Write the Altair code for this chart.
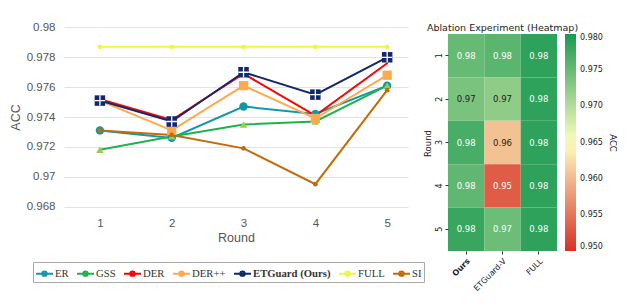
import altair as alt
import pandas as pd

rounds = [1, 2, 3, 4, 5]
series_names = ["ER", "GSS", "DER", "DER++", "ETGuard (Ours)", "FULL", "SI"]
er = [0.9731, 0.9726, 0.9747, 0.9742, 0.9761]
gss = [0.9718, 0.9727, 0.9735, 0.9737, 0.9761]
der = [0.9752, 0.9738, 0.9769, 0.9741, 0.9776]
derpp = [0.9751, 0.9731, 0.9761, 0.9739, 0.9768]
etguard = [0.9751, 0.9737, 0.9770, 0.9755, 0.9780]
full = [0.9787, 0.9787, 0.9787, 0.9787, 0.9787]
si = [0.9731, 0.9728, 0.9719, 0.9695, 0.9758]
y_ticks = [0.968, 0.970, 0.972, 0.974, 0.976, 0.978, 0.980]

hm_title = ["Ablation Experiment (Heatmap)"]
hm_models = ["Ours", "ETGuard-V", "FULL"]
hm_ours = [0.9751, 0.9737, 0.9770, 0.9755, 0.9780]
hm_etguard_v = [0.9758, 0.9724, 0.9606, 0.9532, 0.9746]
hm_full = [0.9787, 0.9787, 0.9787, 0.9787, 0.9787]
cbar_ticks = [0.950, 0.955, 0.960, 0.965, 0.970, 0.975, 0.980]

line_colors = ["#1497a6", "#22b14c", "#ff0000", "#ffa94d", "#13286b", "#eef549", "#c26b08"]
marker_colors = ["#1497a6", "#92d050", "#ff0000", "#ffa94d", "#13286b", "#eef549", "#c26b08"]
marker_shapes = ["circle", "triangle-up", "circle", "square", "square", "circle", "circle"]
marker_sizes = [70, 55, 4, 85, 110, 22, 22]
heat_colors = ["#d73027", "#ffffbf", "#1a9850"]

series_values = [er, gss, der, derpp, etguard, full, si]
rows = []
for name, vals in zip(series_names, series_values):
    for r, v in zip(rounds, vals):
        rows.append({"Method": name, "Round": r, "ACC": v})
df = pd.DataFrame(rows)

hrows = []
for model, vals in zip(hm_models, [hm_ours, hm_etguard_v, hm_full]):
    for r, v in zip(rounds, vals):
        hrows.append({"Model": model, "Round": r, "ACC": v})
hdf = pd.DataFrame(hrows)

sans = "Liberation Sans"
legend_def = dict(
    title=None, orient="none", legendX=-31, legendY=242,
    direction="horizontal", columns=7,
    symbolType="M-1,0H1M0.26,0A0.26,0.26,0,1,1,-0.26,0A0.26,0.26,0,1,1,0.26,0Z",
    symbolSize=289, symbolStrokeWidth=2,
    labelFont="Liberation Serif", labelFontSize=10.7, labelColor="#333",
    labelFontWeight={"expr": "datum.label == 'ETGuard (Ours)' ? 'bold' : 'normal'"},
    labelOffset=1, columnPadding=4, strokeColor="#aaa", padding=2,
    fillColor="white",
)

base = alt.Chart(df).encode(
    x=alt.X("Round:Q", title="Round",
            scale=alt.Scale(domain=[0.5, 5.29], nice=False, zero=False),
            axis=alt.Axis(values=rounds, format="d", grid=False, ticks=False, domain=False,
                          labelFont=sans, labelFontSize=11.5, labelColor="#555", labelPadding=3,
                          titleFont=sans, titleFontSize=12.5, titleFontWeight="normal",
                          titleColor="#555", titlePadding=3)),
    y=alt.Y("ACC:Q", title="ACC",
            scale=alt.Scale(domain=[0.9675, 0.9805], nice=False, zero=False),
            axis=alt.Axis(values=y_ticks, format=".3~f", grid=True, gridColor="#e2e2e2",
                          gridWidth=1.2, ticks=False, domain=False,
                          labelFont=sans, labelFontSize=11.5, labelColor="#555", labelPadding=9,
                          titleFont=sans, titleFontSize=12.5, titleFontWeight="normal",
                          titleColor="#555", titlePadding=4)),
)

lines = base.mark_line(strokeWidth=2).encode(
    stroke=alt.Stroke("Method:N", scale=alt.Scale(domain=series_names, range=line_colors),
                      legend=alt.Legend(**legend_def))
)
point_layers = []
for name, col, shp, sz in zip(series_names, marker_colors, marker_shapes, marker_sizes):
    point_layers.append(
        base.transform_filter(alt.datum.Method == name).mark_point(
            filled=True, opacity=1, color=col, shape=shp, size=sz)
    )
plus = base.transform_filter(alt.datum.Method == "ETGuard (Ours)").mark_point(
    shape="M-1,0H1M0,-1V1", filled=False, color="white", strokeWidth=1.3, size=110, opacity=1
)

left = alt.layer(lines, *point_layers, plus).properties(width=344, height=194)

hsans = "DejaVu Sans"
yscale = alt.Scale(paddingInner=0, paddingOuter=0.1613, align=1)
rect = alt.Chart(hdf).mark_rect().encode(
    x=alt.X("Model:N", sort=hm_models, title=None,
            scale=alt.Scale(paddingInner=0, paddingOuter=0),
            axis=alt.Axis(labelAngle=-45, labelFont=hsans, labelFontSize=8, labelColor="#222",
                          labelFontWeight={"condition": {"test": "datum.value == 'Ours'", "value": "bold"}, "value": "normal"},
                          domain=False, tickSize=3, tickColor="#333", labelPadding=3)),
    y=alt.Y("Round:O", title="Round", scale=yscale,
            axis=alt.Axis(labelAngle=-90, labelFont=hsans, labelFontSize=8, labelColor="#222",
                          domain=False, tickSize=3, tickColor="#333", labelPadding=2,
                          titleFont=hsans, titleFontSize=8.5, titleFontWeight="normal",
                          titleColor="#222", titlePadding=3, titleY=123)),
    color=alt.Color("ACC:Q", scale=alt.Scale(domain=[0.95, 0.98], range=heat_colors, interpolate="rgb"),
                    legend=alt.Legend(title="ACC", orient="none", legendX=117, legendY=14, padding=0,
                                      gradientLength=217, gradientThickness=11,
                                      values=cbar_ticks, format=".3f", direction="vertical",
                                      labelFont=hsans, labelFontSize=8, labelColor="#222",
                                      labelOffset=4, titleOrient="right", titleFont=hsans,
                                      titleFontSize=8.5, titleFontWeight="normal",
                                      titleColor="#222", gradientStrokeWidth=0)),
)
text = alt.Chart(hdf).mark_text(font=hsans, fontSize=8.5).encode(
    x=alt.X("Model:N", sort=hm_models),
    y=alt.Y("Round:O", scale=yscale),
    text=alt.Text("ACC:Q", format=".2f"),
    color=alt.condition("datum.ACC < 0.974 && datum.ACC > 0.957", alt.value("#222"), alt.value("#ffffff")),
)
title_mark = alt.Chart(pd.DataFrame({"t": hm_title})).mark_text(
    font=hsans, fontSize=9.5, color="#222", baseline="middle", align="center"
).encode(text="t:N", x=alt.value(54.5), y=alt.value(8))

right = alt.layer(rect, text, title_mark).properties(width=109, height=231)

chart = alt.hconcat(left, right, spacing=15).resolve_scale(
    x="independent", y="independent", color="independent"
).properties(
    padding={"left": 1, "top": 12, "right": 0, "bottom": 0}
).configure_view(stroke=None)

chart.save("out.html", embed_options={"renderer": "svg", "actions": False})
